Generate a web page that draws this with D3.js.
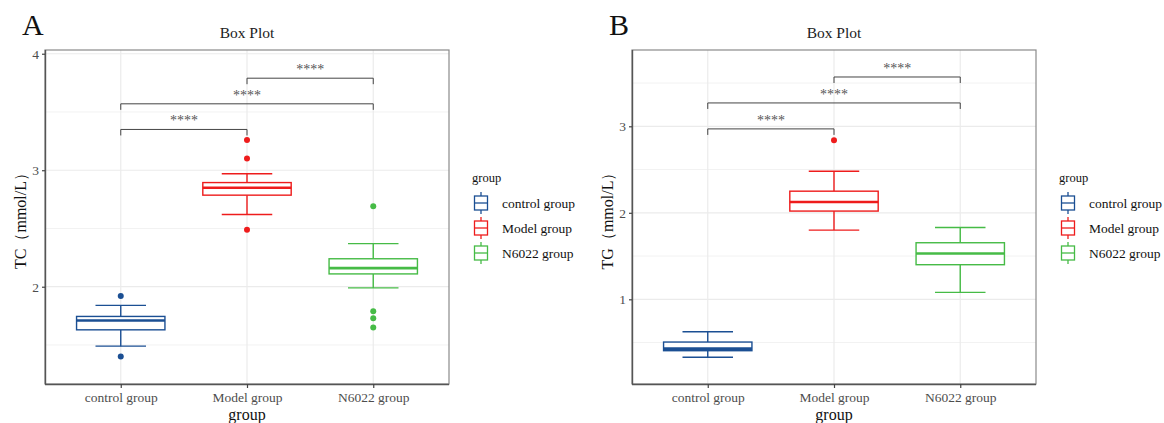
<!DOCTYPE html>
<html>
<head>
<meta charset="utf-8">
<script src="https://cdn.jsdelivr.net/npm/d3@7"></script>
<style>
  body { margin: 0; background: #fff; }
  svg { font-family: 'Liberation Serif', 'Times New Roman', serif; }
</style>
</head>
<body>
<div id="chart"></div>
<script>
// groups and colours
const groups = ['control group', 'Model group', 'N6022 group'];
const groupColors = ['#1B4F93', '#EE1C1C', '#46BB46'];

// panel A: TC
const tcLow = [1.49, 2.62, 1.99];
const tcQ1 = [1.63, 2.786, 2.11];
const tcMedian = [1.71, 2.85, 2.16];
const tcQ3 = [1.745, 2.894, 2.24];
const tcHigh = [1.84, 2.97, 2.37];
const tcOutliers = [[1.92, 1.40], [3.26, 3.10, 2.49], [2.69, 1.79, 1.73, 1.65]];
const tcTicks = [2, 3, 4];
const tcMinor = [1.5, 2.5, 3.5];
const tcBrackets = [[0, 1, 3.35], [0, 2, 3.57], [1, 2, 3.79]];  // from, to, y

// panel B: TG
const tgLow = [0.33, 1.80, 1.08];
const tgQ1 = [0.406, 2.02, 1.40];
const tgMedian = [0.43, 2.125, 1.53];
const tgQ3 = [0.506, 2.25, 1.654];
const tgHigh = [0.625, 2.48, 1.83];
const tgOutliers = [[], [2.84], []];
const tgTicks = [1, 2, 3];
const tgMinor = [0.5, 1.5, 2.5, 3.5];
const tgBrackets = [[0, 1, 2.97], [0, 2, 3.27], [1, 2, 3.57]];

const sigLabel = '****';

const width = 1164, height = 423;
const svg = d3.select('#chart').append('svg')
    .attr('width', width)
    .attr('height', height);

function drawPanel(p) {
    let g = svg.append('g');

    let x = d3.scalePoint()
        .domain(groups)
        .range([p.left, p.right])
        .padding(0.6);
    let y = d3.scaleLinear()
        .domain(p.domain)
        .range([p.bottom, p.top]);
    let step = x.step();

    // panel letter and title
    g.append('text')
        .attr('x', p.left - 23)
        .attr('y', 35)
        .attr('font-size', 30)
        .attr('fill', '#111')
        .text(p.letter);
    g.append('text')
        .attr('x', (p.left + p.right) / 2)
        .attr('y', 38)
        .attr('text-anchor', 'middle')
        .attr('font-size', 15.5)
        .attr('fill', '#222')
        .text('Box Plot');

    // grid
    g.append('g').selectAll('line')
        .data(p.minor)
        .enter().append('line')
        .attr('x1', p.left).attr('x2', p.right)
        .attr('y1', d => y(d)).attr('y2', d => y(d))
        .attr('stroke', '#F2F2F2')
        .attr('stroke-width', 1);
    g.append('g').selectAll('line')
        .data(p.ticks)
        .enter().append('line')
        .attr('x1', p.left).attr('x2', p.right)
        .attr('y1', d => y(d)).attr('y2', d => y(d))
        .attr('stroke', '#EBEBEB')
        .attr('stroke-width', 1.2);
    g.append('g').selectAll('line')
        .data(groups)
        .enter().append('line')
        .attr('x1', d => x(d)).attr('x2', d => x(d))
        .attr('y1', p.top).attr('y2', p.bottom)
        .attr('stroke', '#EBEBEB')
        .attr('stroke-width', 1.2);

    // border
    g.append('rect')
        .attr('x', p.left).attr('y', p.top)
        .attr('width', p.right - p.left).attr('height', p.bottom - p.top)
        .attr('fill', 'none')
        .attr('stroke', '#8a8a8a')
        .attr('stroke-width', 1.2);

    // boxes
    let boxes = g.append('g').selectAll('g')
        .data(groups)
        .enter().append('g')
        .attr('stroke', (d, i) => groupColors[i])
        .attr('fill', 'none');
    // whiskers
    boxes.append('line')
        .attr('x1', d => x(d)).attr('x2', d => x(d))
        .attr('y1', (d, i) => y(p.high[i])).attr('y2', (d, i) => y(p.q3[i]))
        .attr('stroke-width', 1.4);
    boxes.append('line')
        .attr('x1', d => x(d)).attr('x2', d => x(d))
        .attr('y1', (d, i) => y(p.q1[i])).attr('y2', (d, i) => y(p.low[i]))
        .attr('stroke-width', 1.4);
    // caps
    [p.high, p.low].forEach(arr => {
        boxes.append('line')
            .attr('x1', d => x(d) - step * 0.2).attr('x2', d => x(d) + step * 0.2)
            .attr('y1', (d, i) => y(arr[i])).attr('y2', (d, i) => y(arr[i]))
            .attr('stroke-width', 1.4);
    });
    boxes.append('rect')
        .attr('x', d => x(d) - step * 0.35)
        .attr('width', step * 0.7)
        .attr('y', (d, i) => y(p.q3[i]))
        .attr('height', (d, i) => y(p.q1[i]) - y(p.q3[i]))
        .attr('fill', '#fff')
        .attr('stroke-width', 1.4);
    boxes.append('line')
        .attr('x1', d => x(d) - step * 0.35).attr('x2', d => x(d) + step * 0.35)
        .attr('y1', (d, i) => y(p.median[i])).attr('y2', (d, i) => y(p.median[i]))
        .attr('stroke-width', 2.6);
    // outliers
    boxes.each(function(d, i) {
        d3.select(this).selectAll('circle')
            .data(p.outliers[i])
            .enter().append('circle')
            .attr('cx', x(d))
            .attr('cy', v => y(v))
            .attr('r', 3)
            .attr('stroke', 'none')
            .attr('fill', groupColors[i]);
    });

    // significance brackets
    let br = g.append('g').selectAll('g')
        .data(p.brackets)
        .enter().append('g');
    br.append('path')
        .attr('d', d => {
            let x1 = x(groups[d[0]]), x2 = x(groups[d[1]]), yy = y(d[2]);
            return `M${x1},${yy + 6}V${yy}H${x2}V${yy + 6}`;
        })
        .attr('fill', 'none')
        .attr('stroke', '#444')
        .attr('stroke-width', 1);
    br.append('text')
        .attr('x', d => (x(groups[d[0]]) + x(groups[d[1]])) / 2)
        .attr('y', d => y(d[2]) - 4)
        .attr('text-anchor', 'middle')
        .attr('font-size', 14)
        .attr('fill', '#555')
        .text(sigLabel);

    // axes
    let axis_y = d3.axisLeft(y).tickValues(p.ticks).tickSize(3).tickPadding(3).tickFormat(d => d);
    let gy = g.append('g')
        .attr('transform', `translate(${p.left}, 0)`)
        .call(axis_y);
    let axis_x = d3.axisBottom(x).tickSize(4).tickPadding(4);
    let gx = g.append('g')
        .attr('transform', `translate(0, ${p.bottom})`)
        .call(axis_x);
    [gx, gy].forEach(a => {
        a.select('.domain').attr('stroke', '#555').attr('stroke-width', 1.4);
        a.selectAll('.tick line').attr('stroke', '#444').attr('stroke-width', 1.2);
        a.selectAll('.tick text')
            .attr('fill', '#4d4d4d')
            .attr('font-family', "'Liberation Serif', 'Times New Roman', serif")
            .attr('font-size', 13.5);
    });
    gx.select('.domain').attr('d', `M${p.left},0.5H${p.right}`);
    gy.select('.domain').attr('d', `M0.5,${p.top}V${p.bottom}`);

    // axis titles
    g.append('text')
        .attr('x', (p.left + p.right) / 2)
        .attr('y', 420)
        .attr('text-anchor', 'middle')
        .attr('font-size', 16)
        .attr('fill', '#111')
        .text('group');
    g.append('text')
        .attr('transform', `translate(${p.left - 19}, ${(p.top + p.bottom) / 2}) rotate(-90)`)
        .attr('text-anchor', 'middle')
        .attr('font-size', 16)
        .attr('fill', '#111')
        .text(p.yTitle);

    // legend
    let lx = p.right + 23;
    let lg = g.append('g');
    lg.append('text')
        .attr('x', lx)
        .attr('y', 181.5)
        .attr('font-size', 12.5)
        .attr('fill', '#111')
        .text('group');
    let items = lg.selectAll('g.item')
        .data(groups)
        .enter().append('g')
        .attr('class', 'item')
        .attr('transform', (d, i) => `translate(${lx + 9}, ${203 + i * 25})`);
    items.append('line')
        .attr('y1', -11).attr('y2', 11)
        .attr('stroke', (d, i) => groupColors[i])
        .attr('stroke-width', 1.3);
    items.append('rect')
        .attr('x', -6.5).attr('y', -7)
        .attr('width', 13).attr('height', 14)
        .attr('fill', '#fff')
        .attr('stroke', (d, i) => groupColors[i])
        .attr('stroke-width', 1.3);
    items.append('line')
        .attr('x1', -6.5).attr('x2', 6.5)
        .attr('stroke', (d, i) => groupColors[i])
        .attr('stroke-width', 1.3);
    items.append('text')
        .attr('x', 21)
        .attr('y', 4.5)
        .attr('font-size', 13.5)
        .attr('fill', '#111')
        .text(d => d);
}

drawPanel({
    letter: 'A', yTitle: 'TC（mmol/L）',
    left: 45, right: 449, top: 50, bottom: 384,
    domain: [1.165, 4.032], ticks: tcTicks, minor: tcMinor,
    low: tcLow, q1: tcQ1, median: tcMedian, q3: tcQ3, high: tcHigh,
    outliers: tcOutliers, brackets: tcBrackets
});
drawPanel({
    letter: 'B', yTitle: 'TG（mmol/L）',
    left: 632, right: 1036, top: 50, bottom: 384,
    domain: [0.021, 3.882], ticks: tgTicks, minor: tgMinor,
    low: tgLow, q1: tgQ1, median: tgMedian, q3: tgQ3, high: tgHigh,
    outliers: tgOutliers, brackets: tgBrackets
});
</script>
</body>
</html>
